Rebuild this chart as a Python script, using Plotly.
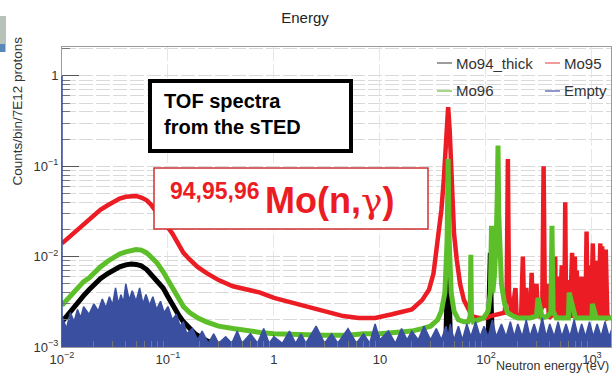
import plotly.graph_objects as go

# ---------------- data ----------------
series_names = ["Mo94_thick", "Mo95", "Mo96", "Empty"]

mo94_thick = [
    (0.01, 0.0019), (0.012, 0.0025), (0.014, 0.0031), (0.016, 0.0037), (0.018, 0.0043),
    (0.02, 0.0049), (0.023, 0.0057), (0.027, 0.0065), (0.031, 0.0072), (0.035, 0.0077),
    (0.04, 0.0081), (0.045, 0.0083), (0.05, 0.0082), (0.056, 0.0079), (0.063, 0.0072),
    (0.07, 0.0063), (0.079, 0.0055), (0.09, 0.0045), (0.1, 0.0036), (0.11, 0.0029),
    (0.125, 0.0023), (0.14, 0.0019), (0.16, 0.0016), (0.18, 0.0014), (0.2, 0.0013),
    (0.23, 0.00118), (0.27, 0.0011), (0.32, 0.00105), (0.4, 0.00102), (0.6, 0.001),
    (1, 0.001), (2, 0.001), (5, 0.001), (10, 0.001), (20, 0.001), (35, 0.00102),
    (40, 0.00105), (42, 0.0014), (43, 0.004), (44, 0.033), (45, 0.004), (46, 0.0014),
    (48, 0.00105), (55, 0.00104), (70, 0.00104), (90, 0.00104), (100, 0.00105),
    (105, 0.0012), (108, 0.003), (110, 0.011), (112, 0.003), (115, 0.0012),
    (125, 0.00105), (150, 0.00104), (200, 0.00104), (300, 0.00104), (500, 0.00104),
    (800, 0.00104), (1200, 0.00104), (1550, 0.00104),
]

mo95 = [
    (0.01, 0.014), (0.012, 0.017), (0.014, 0.02), (0.016, 0.023), (0.018, 0.026),
    (0.02, 0.029), (0.023, 0.033), (0.027, 0.037), (0.031, 0.041), (0.035, 0.044),
    (0.04, 0.046), (0.045, 0.047), (0.05, 0.047), (0.056, 0.045), (0.063, 0.042),
    (0.07, 0.037), (0.079, 0.031), (0.09, 0.025), (0.1, 0.021), (0.11, 0.018),
    (0.125, 0.014), (0.14, 0.011), (0.16, 0.0093), (0.19, 0.0077), (0.23, 0.0066),
    (0.3, 0.0055), (0.41, 0.0047), (0.55, 0.0043), (0.74, 0.004), (1, 0.0035),
    (1.5, 0.0031), (2.2, 0.0027), (3.2, 0.0024), (4.5, 0.0022), (6.3, 0.0021),
    (9, 0.0021), (13, 0.0023), (17, 0.0025), (20, 0.0026), (25, 0.0033),
    (29, 0.0043), (32, 0.0065), (34, 0.011), (36, 0.018), (38, 0.033),
    (40, 0.07), (41, 0.12), (42.5, 0.25), (44, 0.45), (45.5, 0.25),
    (47, 0.08), (48, 0.033), (50, 0.018), (53, 0.0093), (57, 0.005),
    (62, 0.0033), (68, 0.0026), (74, 0.0022), (85, 0.0021), (100, 0.0021),
    (110, 0.0022), (130, 0.0023), (150, 0.0024), (157, 0.004), (161, 0.12),
    (165, 0.004), (175, 0.0022), (190, 0.0045), (195, 0.0021), (215, 0.0023),
    (223, 0.01), (230, 0.0022), (240, 0.0045), (248, 0.0021), (262, 0.0022),
    (270, 0.0066), (278, 0.0021), (300, 0.005), (310, 0.0021), (340, 0.0028),
    (350, 0.1), (360, 0.0027), (380, 0.005), (392, 0.0021), (412, 0.0022),
    (420, 0.01), (428, 0.0022), (450, 0.01), (458, 0.0021), (480, 0.006),
    (495, 0.0021), (520, 0.008), (535, 0.0022), (550, 0.0024), (560, 0.04),
    (570, 0.0023), (600, 0.0055), (620, 0.0021), (650, 0.011), (665, 0.0021),
    (690, 0.01), (705, 0.0021), (720, 0.007), (740, 0.0021), (800, 0.006),
    (820, 0.0021), (870, 0.0024), (890, 0.019), (910, 0.0022), (950, 0.008),
    (980, 0.0021), (1020, 0.014), (1060, 0.0021), (1100, 0.009), (1150, 0.0021),
    (1200, 0.014), (1230, 0.0021), (1250, 0.013), (1290, 0.0021), (1350, 0.012),
    (1400, 0.0021), (1500, 0.0022),
]

mo96 = [
    (0.01, 0.0029), (0.012, 0.0037), (0.014, 0.0045), (0.016, 0.0053), (0.018, 0.0058),
    (0.02, 0.0066), (0.023, 0.0077), (0.027, 0.0089), (0.031, 0.0099), (0.035, 0.0107),
    (0.04, 0.0113), (0.045, 0.0118), (0.05, 0.012), (0.056, 0.0118), (0.063, 0.011),
    (0.07, 0.0098), (0.079, 0.0085), (0.09, 0.0068), (0.1, 0.0055), (0.11, 0.0045),
    (0.125, 0.0035), (0.14, 0.0028), (0.16, 0.0024), (0.19, 0.0021), (0.23, 0.0019),
    (0.3, 0.0017), (0.41, 0.0016), (0.55, 0.0015), (0.74, 0.00145), (1, 0.0014),
    (1.5, 0.00138), (2, 0.00135), (3, 0.00135), (5, 0.00135), (7, 0.0014),
    (10, 0.0014), (15, 0.00145), (20, 0.0015), (25, 0.0016), (30, 0.0017),
    (35, 0.002), (38, 0.0025), (41, 0.004), (43, 0.015), (44, 0.12),
    (45, 0.015), (47, 0.004), (50, 0.0025), (55, 0.002), (62, 0.0019),
    (68, 0.0019), (71, 0.0022), (72, 0.0105), (73, 0.0022), (76, 0.0019),
    (85, 0.002), (95, 0.0021), (105, 0.0025), (110, 0.004), (113, 0.022),
    (116, 0.004), (120, 0.006), (125, 0.015), (128, 0.05), (130, 0.17),
    (132, 0.03), (135, 0.012), (140, 0.005), (150, 0.003), (160, 0.0024),
    (180, 0.0022), (200, 0.0021), (230, 0.0021), (260, 0.0021), (300, 0.0022),
    (310, 0.0035), (340, 0.0021), (380, 0.0022), (410, 0.0024), (420, 0.022),
    (430, 0.0025), (460, 0.0021), (520, 0.0021), (600, 0.0021), (610, 0.004),
    (700, 0.0021), (800, 0.0021), (900, 0.0021), (1000, 0.0021), (1010, 0.003),
    (1100, 0.0021), (1300, 0.0021), (1550, 0.0021),
]

empty = [
    (0.01, 0.0022), (0.011, 0.0016), (0.012, 0.0024), (0.013, 0.0019), (0.014, 0.0026),
    (0.015, 0.0021), (0.016, 0.0028), (0.018, 0.0023), (0.02, 0.003), (0.022, 0.0025),
    (0.024, 0.0034), (0.026, 0.0027), (0.028, 0.0036), (0.03, 0.0029), (0.032, 0.0045),
    (0.034, 0.003), (0.036, 0.0038), (0.038, 0.0031), (0.04, 0.005), (0.043, 0.0033),
    (0.046, 0.0042), (0.05, 0.0032), (0.054, 0.0045), (0.058, 0.003), (0.062, 0.0038),
    (0.067, 0.0029), (0.072, 0.0036), (0.078, 0.0026), (0.085, 0.0032), (0.092, 0.0024),
    (0.1, 0.0028), (0.11, 0.002), (0.12, 0.0023), (0.13, 0.0017), (0.14, 0.0019),
    (0.15, 0.0014), (0.17, 0.0016), (0.19, 0.0012), (0.21, 0.0015), (0.24, 0.0011),
    (0.27, 0.0014), (0.3, 0.0011), (0.35, 0.0013), (0.4, 0.0011), (0.45, 0.0015),
    (0.5, 0.0011), (0.6, 0.0014), (0.7, 0.0011), (0.8, 0.0016), (0.9, 0.0011),
    (1, 0.0013), (1.2, 0.0011), (1.4, 0.0015), (1.6, 0.0011), (1.8, 0.0014),
    (2, 0.0011), (2.5, 0.0017), (3, 0.0011), (3.5, 0.0014), (4, 0.0011),
    (5, 0.0016), (6, 0.0011), (7, 0.0014), (8, 0.0011), (9, 0.0018),
    (10, 0.0012), (12, 0.0015), (14, 0.0011), (16, 0.0016), (18, 0.0012),
    (20, 0.0015), (23, 0.0012), (26, 0.0017), (30, 0.0012), (34, 0.0016),
    (38, 0.0012), (42, 0.0017), (44, 0.0013), (46, 0.0018), (50, 0.0012),
    (55, 0.0017), (60, 0.0012), (66, 0.0018), (72, 0.0013), (80, 0.0019),
    (88, 0.0013), (96, 0.0017), (105, 0.0013), (115, 0.002), (125, 0.0013),
    (140, 0.0018), (155, 0.0013), (170, 0.0019), (185, 0.0013), (200, 0.0018),
    (220, 0.0013), (240, 0.002), (260, 0.0013), (285, 0.0018), (310, 0.0013),
    (340, 0.0021), (370, 0.0013), (400, 0.0018), (440, 0.0013), (480, 0.0019),
    (520, 0.0013), (570, 0.0018), (620, 0.0013), (680, 0.002), (740, 0.0013),
    (800, 0.0018), (870, 0.0013), (950, 0.0019), (1030, 0.0013), (1120, 0.0018),
    (1220, 0.0013), (1330, 0.0019), (1450, 0.0013), (1550, 0.0016),
]

x_tick_vals = [0.01, 0.1, 1, 10, 100, 1000]
x_tick_text = ["10<sup>\u22122</sup>", "10<sup>\u22121</sup>", "1", "10",
               "10<sup>2</sup>", "10<sup>3</sup>"]
y_tick_vals = [0.001, 0.01, 0.1, 1]
y_tick_text = ["10<sup>\u22123</sup>", "10<sup>\u22122</sup>", "10<sup>\u22121</sup>", "1"]

# ---------------- styling ----------------
W, H = 613, 376
L, R, T, B = 62, 611, 47, 347
FONT = "Liberation Sans, Arial, Helvetica, sans-serif"
C_BLACK = "#000000"
C_RED = "#ec1c24"
C_GREEN = "#5cbf2a"
C_BLUE = "#3a4f9f"
TXT = "#333333"


def px(x):
    return (x - L) / (R - L)


def py(y):
    return (B - y) / (B - T)


def unzip(pairs):
    return [p[0] for p in pairs], [p[1] for p in pairs]


fig = go.Figure()

for pairs, col, w in [(mo94_thick, C_BLACK, 5), (mo95, C_RED, 4.5), (mo96, C_GREEN, 5)]:
    xs, ys = unzip(pairs)
    fig.add_trace(go.Scatter(x=xs, y=ys, mode="lines", showlegend=False,
                             line=dict(color=col, width=w), hoverinfo="skip"))

ex, ey = unzip(empty)
fig.add_trace(go.Scatter(x=ex, y=[1e-4] * len(ex), mode="lines", showlegend=False,
                         line=dict(width=0), hoverinfo="skip"))
fig.add_trace(go.Scatter(x=ex, y=ey, mode="lines", showlegend=False, fill="tonexty",
                         fillcolor=C_BLUE, line=dict(color=C_BLUE, width=1.5),
                         hoverinfo="skip"))

y_minor = [m * 10 ** k for k in range(-3, 1) for m in range(2, 10)] + [2.0]
x_minor = [m * 10 ** k for k in range(-2, 4) for m in range(2, 10)]

grid_col = "#d9d9d9"
fig.update_xaxes(type="log", range=[-2, 3.18], tickvals=x_tick_vals, ticktext=x_tick_text,
                 ticks="inside", ticklen=12, tickcolor="#555", showline=True,
                 linecolor="#9a9a9a", mirror=True, showgrid=True, gridcolor="#e6e6e6",
                 griddash="14px,3px", zeroline=False,
                 tickfont=dict(family=FONT, size=13, color=TXT),
                 minor=dict(tickvals=x_minor, ticks="inside", ticklen=6, tickcolor="#777",
                            showgrid=False))
fig.update_yaxes(type="log", range=[-3, 0.32], tickvals=y_tick_vals, ticktext=y_tick_text,
                 ticks="inside", ticklen=17, tickcolor="#555", showline=True,
                 linecolor="#9a9a9a", mirror=True, showgrid=True, gridcolor=grid_col,
                 griddash="14px,3px", zeroline=False,
                 tickfont=dict(family=FONT, size=13, color=TXT),
                 minor=dict(tickvals=y_minor, ticks="inside", ticklen=8, tickcolor="#777",
                            showgrid=True, gridcolor=grid_col, griddash="14px,3px"))

shapes = []
# cropped logo fragment at top-left corner of the slide
shapes.append(dict(type="rect", xref="paper", yref="paper", x0=px(0), x1=px(6),
                   y0=py(52), y1=py(16), line=dict(width=0), fillcolor="#b7c3b9",
                   layer="above"))
shapes.append(dict(type="rect", xref="paper", yref="paper", x0=px(0), x1=px(5),
                   y0=py(52), y1=py(44), line=dict(width=0), fillcolor="#5b86b8",
                   layer="above"))
# left edge blue line (first bin of Empty)
shapes.append(dict(type="line", xref="paper", yref="paper", x0=0, x1=0,
                   y0=0, y1=py(76), line=dict(color=C_BLUE, width=1.5)))
# legend samples (manual, pale)
legend_items = [
    ("Mo94_thick", "#9c9c9c", 437, 63),
    ("Mo95", "#f39a9a", 545, 63),
    ("Mo96", "#a5d886", 437, 91),
    ("Empty", "#8f98cc", 545, 91),
]
annotations = []
for name, col, lx, ly in legend_items:
    shapes.append(dict(type="line", xref="paper", yref="paper", x0=px(lx), x1=px(lx + 15),
                       y0=py(ly), y1=py(ly), line=dict(color=col, width=2)))
    annotations.append(dict(text=name, xref="paper", yref="paper", x=px(lx + 17), y=py(ly),
                            xanchor="left", yanchor="middle", showarrow=False,
                            font=dict(family=FONT, size=15, color=TXT)))

# TOF text box
shapes.append(dict(type="rect", xref="paper", yref="paper", x0=px(150), x1=px(351),
                   y0=py(151), y1=py(81), line=dict(color="black", width=4),
                   fillcolor="white", layer="above"))
annotations.append(dict(text="<b>TOF spectra<br>from the sTED</b>", xref="paper", yref="paper",
                        x=px(162), y=py(88), xanchor="left", yanchor="top", align="left",
                        showarrow=False, font=dict(family=FONT, size=20, color="black")))
# red reaction box
shapes.append(dict(type="rect", xref="paper", yref="paper", x0=px(154), x1=px(428),
                   y0=py(229), y1=py(168), line=dict(color="#d03030", width=1.5),
                   fillcolor="white", layer="above"))
annotations.append(dict(text="<b>94,95,96</b>", xref="paper", yref="paper",
                        x=px(168), y=py(191), xanchor="left", yanchor="middle",
                        showarrow=False, font=dict(family=FONT, size=23, color=C_RED)))
annotations.append(dict(text="<b>Mo(n,</b><span style='font-family:DejaVu Serif'>\u03b3</span><b>)</b>",
                        xref="paper", yref="paper",
                        x=px(263), y=py(200), xanchor="left", yanchor="middle",
                        showarrow=False, font=dict(family=FONT, size=36, color=C_RED)))

# axis titles
annotations.append(dict(text="Counts/bin/7E12 protons", xref="paper", yref="paper",
                        x=px(17), y=py(35), xanchor="center", yanchor="top", textangle=-90,
                        showarrow=False, font=dict(family=FONT, size=13.5, color=TXT)))
annotations.append(dict(text="Neutron energy (eV)", xref="paper", yref="paper",
                        x=px(611), y=py(366), xanchor="right", yanchor="middle",
                        showarrow=False,
                        font=dict(family=FONT, size=12.5, color=TXT)))

fig.update_layout(
    width=W, height=H,
    margin=dict(l=L, r=W - R, t=T, b=H - B),
    paper_bgcolor="white", plot_bgcolor="white",
    title=dict(text="Energy", x=305 / W, xanchor="center", y=1 - 18 / H, yanchor="middle",
               font=dict(family=FONT, size=15, color="#222")),
    shapes=shapes, annotations=annotations, showlegend=False, hovermode=False,
)

fig.write_html("out.html")
